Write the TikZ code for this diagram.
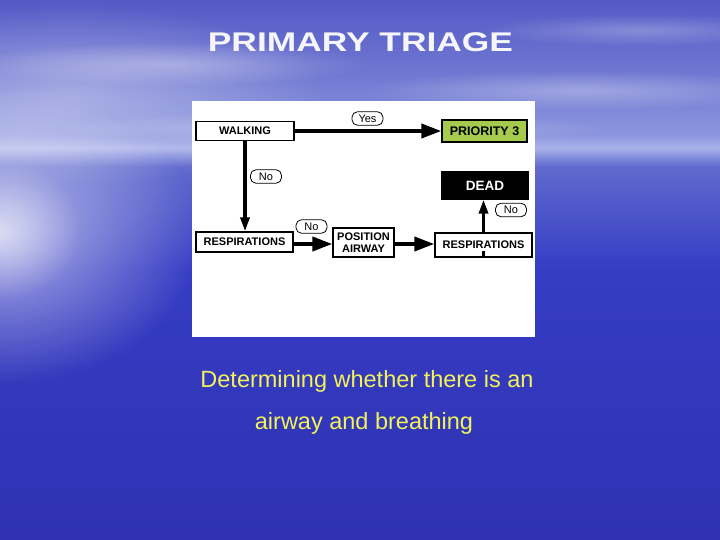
\documentclass[tikz,border=0pt]{standalone}
\usepackage{fontspec}
\setmainfont{Liberation Sans}
\usetikzlibrary{arrows.meta,positioning,fadings}
\definecolor{bgtop}{RGB}{84,90,198}
\definecolor{bgsky}{RGB}{112,120,210}
\definecolor{bgcloud}{RGB}{140,150,222}
\definecolor{bghor}{RGB}{170,178,234}
\definecolor{bgsea}{RGB}{96,106,206}
\definecolor{bgmid}{RGB}{54,60,196}
\definecolor{bgbot}{RGB}{46,50,178}
\definecolor{prio}{RGB}{166,202,78}
\definecolor{captionyellow}{RGB}{242,242,90}
\definecolor{titlewhite}{RGB}{246,246,250}
\tikzfading[name=softglow, inner color=transparent!0, outer color=transparent!100]
% path spans 25bp (bottom) .. 75bp (top); pos = 75 - y*50/540
\pgfdeclareverticalshading{seasky}{100bp}{
  color(0bp)=(bgbot); color(25bp)=(bgbot); color(50bp)=(bgmid);
  color(59.6bp)=(bgsea); color(61.3bp)=(bghor); color(62.5bp)=(bgcloud);
  color(68bp)=(bgsky); color(75bp)=(bgtop); color(100bp)=(bgtop)}
\tikzset{
  box/.style={draw=black, line width=1.3pt, fill=white, inner sep=0pt,
    font=\fontsize{11}{12}\selectfont\bfseries, align=center},
  pill/.style={draw=black, line width=0.8pt, fill=white, rounded corners=5.5pt,
    inner sep=0pt, minimum width=31pt, minimum height=13.5pt,
    font=\fontsize{11}{12}\selectfont},
  bigarrow/.style={line width=3.8pt, -{Triangle[length=20pt,width=14pt]}},
  thinarrow/.style={line width=3.3pt, -{Triangle[length=14pt,width=9pt]}},
  glowfill/.style={fill=white, path fading=softglow, fit fading=true},
}
\begin{document}
\begin{tikzpicture}[x=1pt,y=-1pt]
\useasboundingbox (0,0) rectangle (720,540);
% background
\shade[shading=seasky] (0,0) rectangle (720,540);
% upper-left lighter sky
\fill[glowfill, opacity=0.35] (70,95) ellipse (260 and 90);
% left glow on the sea
\fill[glowfill, opacity=0.6] (0,235) ellipse (200 and 150);
\fill[glowfill, opacity=0.5] (0,230) ellipse (80 and 70);
% soft cloud streaks
\fill[glowfill, opacity=0.3] (170,64) ellipse (200 and 22);
\fill[glowfill, opacity=0.3] (580,90) ellipse (220 and 20);
\fill[glowfill, opacity=0.25] (640,30) ellipse (160 and 16);
\fill[glowfill, opacity=0.3] (330,128) ellipse (280 and 16);
% title
\node[font=\fontsize{27}{30}\selectfont\bfseries, text=titlewhite, anchor=base] (title) at (360.5,52) {\scalebox{1.31}[1]{PRIMARY TRIAGE}};
% panel
\fill[white] (192,101) rectangle (535,337);
% boxes
\node[box, minimum width=98pt, minimum height=19pt] (walk) at (245,131) {WALKING};
\node[box, fill=prio, minimum width=85pt, minimum height=22pt, font=\fontsize{12.5}{13}\selectfont\bfseries] (prio) at (484.5,131) {PRIORITY 3};
\node[box, fill=black, text=white, minimum width=86pt, minimum height=27pt, font=\fontsize{13.5}{14}\selectfont\bfseries] (dead) at (485,185.5) {DEAD};
\node[box, minimum width=97pt, minimum height=20pt] (resp1) at (244.5,242) {RESPIRATIONS};
\node[box, minimum width=61pt, minimum height=29pt, font=\fontsize{11}{12.5}\selectfont\bfseries] (pos) at (363.5,242.5) {POSITION\\AIRWAY};
\node[box, minimum width=97pt, minimum height=24pt] (resp2) at (483.5,245) {RESPIRATIONS};
% labels
\node[pill] (yes) at (367.5,118.5) {Yes};
\node[pill] (no1) at (266,176.5) {No};
\node[pill] (no2) at (311.5,226.5) {No};
\node[pill] (no3) at (511,210) {No};
% connectors
\draw[bigarrow] (walk.east) -- (prio.west |- walk.east);
\draw[thinarrow] (walk.south) -- (walk.south |- resp1.north);
\coordinate (r1e) at (resp1.east |- 0,244);
\draw[bigarrow] (r1e) -- (pos.west |- r1e);
\draw[bigarrow] (pos.east |- r1e) -- (resp2.west |- r1e);
\draw[thinarrow] (resp2.north) -- (resp2.north |- dead.south);
\coordinate (stub) at ([yshift=7pt]resp2.south);
\draw[line width=3pt] (resp2.south) -- (stub);
% caption
\node[font=\fontsize{23.5}{28}\selectfont, text=captionyellow, anchor=base] (cap1) at (367,387) {Determining whether there is an};
\node[font=\fontsize{23.5}{28}\selectfont, text=captionyellow, anchor=base] (cap2) at (364,429) {airway and breathing};
\end{tikzpicture}
\end{document}
